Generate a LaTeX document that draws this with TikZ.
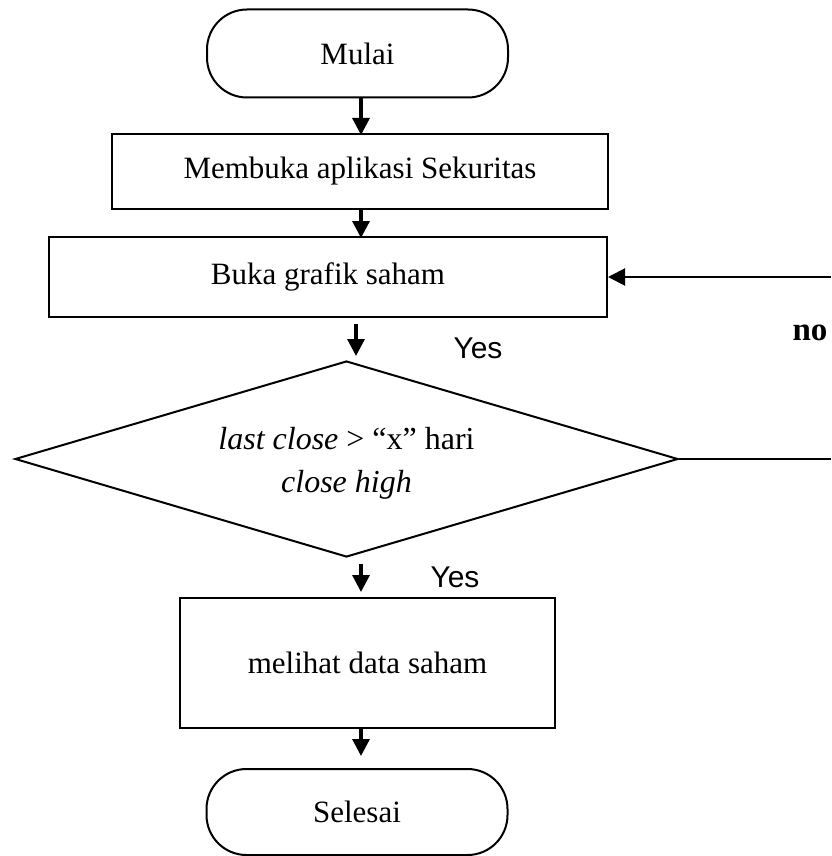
\documentclass[tikz,border=0pt]{standalone}
\usepackage{fontspec}
\setmainfont{Liberation Serif}
\newfontfamily\labelfont{Liberation Sans}
\usepackage{tikz}
\usetikzlibrary{shapes,arrows,positioning,calc,arrows.meta}

\begin{document}
\begin{tikzpicture}[
    x=0.5pt, y=-0.5pt,
    terminal/.style={draw, line width=1pt, rounded corners=20pt, minimum width=150.5pt, minimum height=44pt, font=\fontsize{15.5}{18}\selectfont},
    process/.style={draw, line width=1pt, font=\fontsize{15.5}{18}\selectfont},
    decision/.style={diamond, draw, line width=1pt, inner sep=0pt, shape aspect=3.38, minimum width=331.5pt, minimum height=98pt},
    arr/.style={-{Triangle[length=8.5pt,width=8.5pt]}, line width=1.6pt},
    yeslabel/.style={font=\labelfont\fontsize{15}{17}\selectfont}
]
    \useasboundingbox (0,0) rectangle (831,856);

    % Flow
    \node[terminal] (mulai) at (357.5,53.5) {Mulai};
    \node[process, minimum width=248pt, minimum height=37.5pt] (membuka) at (360,171.5) {Membuka aplikasi Sekuritas};
    \node[process, minimum width=279pt, minimum height=40pt] (buka) at (328,277) {Buka grafik saham};
    \node[decision] (cek) at (346.5,459) {};
    \node[align=center, font=\fontsize{16}{21.5}\selectfont] (cektext) at (346.5,463) {\textit{last close} > “x” hari\\\textit{close high}};
    \node[process, minimum width=187.5pt, minimum height=65pt] (lihat) at (367.5,663) {melihat data saham};
    \node[terminal, minimum height=43pt] (selesai) at (357,812) {Selesai};

    % Arrows
    \coordinate (mid) at (361,0);
    \coordinate (mid2) at (356,0);
    \draw[arr] (mulai.south -| mid) -- ([yshift=-1pt]membuka.north -| mid);
    \draw[arr] (membuka.south -| mid) -- ([yshift=-1pt]buka.north -| mid);
    \draw[arr, shorten <=3pt, shorten >=2pt] (buka.south -| mid2) -- (cek.north -| mid2);
    \draw[arr, shorten <=3pt, shorten >=2.5pt] (cek.south -| mid) -- (lihat.north -| mid);
    \draw[arr] (lihat.south -| mid) -- ([yshift=6pt]selesai.north -| mid);

    % Loop back
    \coordinate (kanan1) at (831,459);
    \coordinate (kanan2) at (831,277);
    \draw[line width=1pt] (cek.east) -- (kanan1);
    \draw[arr, line width=1pt] (kanan2) -- (buka.east);

    % Labels
    \node[yeslabel] (yes1) at (478,348) {Yes};
    \node[yeslabel] (yes2) at (455,577) {Yes};
    \node[font=\fontsize{16.5}{19}\selectfont\bfseries] (no) at (810,333) {no};
\end{tikzpicture}
\end{document}
